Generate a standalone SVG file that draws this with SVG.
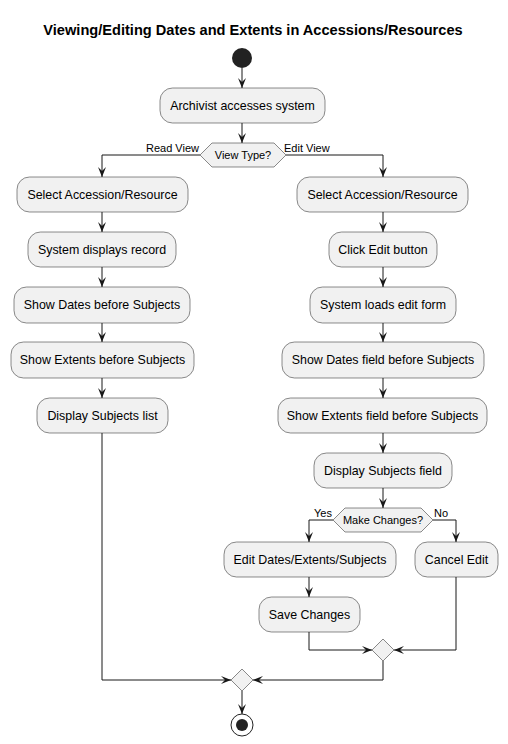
<svg xmlns="http://www.w3.org/2000/svg" width="508" height="744" viewBox="0 0 508 744">
<style>
.box{fill:#F1F1F1;stroke:#181818;stroke-width:0.5}
.t{font-family:"Liberation Sans",Arial,sans-serif;font-size:12.4px;fill:#000;text-anchor:middle}
.lbl{font-family:"Liberation Sans",Arial,sans-serif;font-size:11px;fill:#000}
.c{fill:none;stroke:#181818;stroke-width:1}
.title{font-family:"Liberation Sans",Arial,sans-serif;font-size:14.6px;font-weight:bold;text-anchor:middle}
</style>
<defs>
<marker id="ah" viewBox="0 0 10 8" refX="10" refY="4" markerWidth="10" markerHeight="8" markerUnits="userSpaceOnUse" orient="auto">
<path d="M0,0 L10,4 L0,8 L4,4 Z" fill="#181818"/>
</marker>
</defs>
<rect width="508" height="744" fill="#FFFFFF"/>
<text class="title" x="253" y="35">Viewing/Editing Dates and Extents in Accessions/Resources</text>

<g id="connectors">
<path class="c" d="M242,68 V88" marker-end="url(#ah)"/>
<path class="c" d="M242,123 V143" marker-end="url(#ah)"/>
<path class="c" d="M200,155 H102 V177" marker-end="url(#ah)"/>
<path class="c" d="M286,155 H383 V177" marker-end="url(#ah)"/>
<path class="c" d="M102,212 V232" marker-end="url(#ah)"/>
<path class="c" d="M102,267 V287" marker-end="url(#ah)"/>
<path class="c" d="M102,323 V342" marker-end="url(#ah)"/>
<path class="c" d="M102,378 V398" marker-end="url(#ah)"/>
<path class="c" d="M383,212 V232" marker-end="url(#ah)"/>
<path class="c" d="M383,267 V287" marker-end="url(#ah)"/>
<path class="c" d="M383,323 V342" marker-end="url(#ah)"/>
<path class="c" d="M383,378 V398" marker-end="url(#ah)"/>
<path class="c" d="M383,433 V453" marker-end="url(#ah)"/>
<path class="c" d="M383,488 V508" marker-end="url(#ah)"/>
<path class="c" d="M333,520 H309 V542" marker-end="url(#ah)"/>
<path class="c" d="M433,520 H456 V542" marker-end="url(#ah)"/>
<path class="c" d="M309,577 V597" marker-end="url(#ah)"/>
<path class="c" d="M309,632 V650 H372" marker-end="url(#ah)"/>
<path class="c" d="M456,577 V650 H394" marker-end="url(#ah)"/>
<path class="c" d="M383,661 V680 H253" marker-end="url(#ah)"/>
<path class="c" d="M102,433 V680 H231" marker-end="url(#ah)"/>
<path class="c" d="M242,691 V714" marker-end="url(#ah)"/>
<text class="lbl" x="199" y="152" text-anchor="end">Read View</text>
<text class="lbl" x="284" y="152">Edit View</text>
<text class="lbl" x="332" y="517" text-anchor="end">Yes</text>
<text class="lbl" x="434" y="517">No</text>
</g>

<g id="start"><circle cx="242" cy="58" r="10" fill="#222222"/></g>
<g id="n1"><rect class="box" x="160" y="88" width="165" height="35" rx="12.5"/><text class="t" x="242.5" y="110">Archivist accesses system</text></g>
<g id="d1"><polygon class="box" points="200,155 212,143 274,143 286,155 274,167 212,167"/><text class="lbl" x="243" y="159" text-anchor="middle">View Type?</text></g>

<g id="l1"><rect class="box" x="17" y="177" width="171" height="35" rx="12.5"/><text class="t" x="102.5" y="199">Select Accession/Resource</text></g>
<g id="l2"><rect class="box" x="28" y="232" width="148" height="35" rx="12.5"/><text class="t" x="102" y="254">System displays record</text></g>
<g id="l3"><rect class="box" x="14" y="287" width="176" height="36" rx="12.5"/><text class="t" x="102" y="309">Show Dates before Subjects</text></g>
<g id="l4"><rect class="box" x="11" y="342" width="183" height="36" rx="12.5"/><text class="t" x="102.5" y="364">Show Extents before Subjects</text></g>
<g id="l5"><rect class="box" x="37" y="398" width="131" height="35" rx="12.5"/><text class="t" x="102.5" y="420">Display Subjects list</text></g>

<g id="r1"><rect class="box" x="297" y="177" width="171" height="35" rx="12.5"/><text class="t" x="382.5" y="199">Select Accession/Resource</text></g>
<g id="r2"><rect class="box" x="329" y="232" width="108" height="35" rx="12.5"/><text class="t" x="383" y="254">Click Edit button</text></g>
<g id="r3"><rect class="box" x="310" y="287" width="146" height="36" rx="12.5"/><text class="t" x="383" y="309">System loads edit form</text></g>
<g id="r4"><rect class="box" x="282" y="342" width="202" height="36" rx="12.5"/><text class="t" x="383" y="364">Show Dates field before Subjects</text></g>
<g id="r5"><rect class="box" x="278" y="398" width="209" height="35" rx="12.5"/><text class="t" x="382.5" y="420">Show Extents field before Subjects</text></g>
<g id="r6"><rect class="box" x="314" y="453" width="138" height="35" rx="12.5"/><text class="t" x="383" y="475">Display Subjects field</text></g>
<g id="d2"><polygon class="box" points="333,520 345,508 421,508 433,520 421,532 345,532"/><text class="lbl" x="383" y="524" text-anchor="middle">Make Changes?</text></g>
<g id="r7"><rect class="box" x="224" y="542" width="172" height="35" rx="12.5"/><text class="t" x="310" y="564">Edit Dates/Extents/Subjects</text></g>
<g id="r8"><rect class="box" x="415" y="542" width="83" height="35" rx="12.5"/><text class="t" x="456.5" y="564">Cancel Edit</text></g>
<g id="r9"><rect class="box" x="259" y="597" width="101" height="35" rx="12.5"/><text class="t" x="309.5" y="619">Save Changes</text></g>
<g id="m1"><polygon class="box" points="372,650 383,639 394,650 383,661"/></g>
<g id="m2"><polygon class="box" points="231,680 242,669 253,680 242,691"/></g>
<g id="end"><circle cx="242" cy="725" r="11" fill="none" stroke="#222222" stroke-width="1"/><circle cx="242" cy="725" r="6" fill="#222222"/></g>
</svg>
